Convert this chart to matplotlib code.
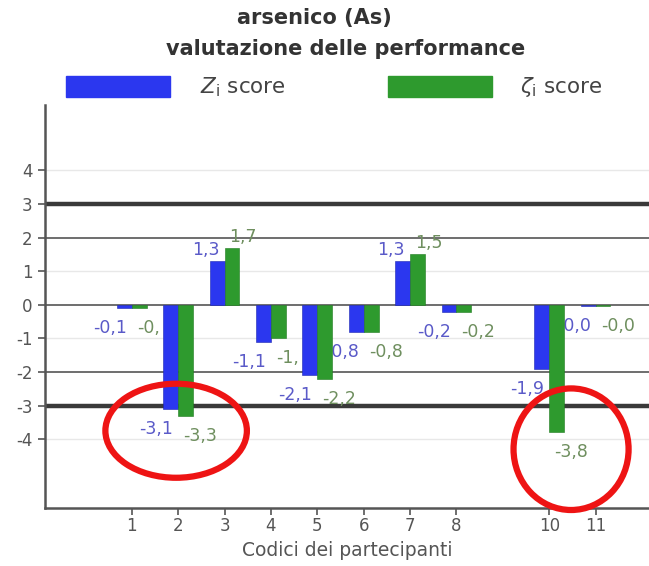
import matplotlib
matplotlib.use("Agg")
import matplotlib.pyplot as plt
from matplotlib.patches import Rectangle, Ellipse

# Participant codes (9 did not report) and their performance scores
codes = [1, 2, 3, 4, 5, 6, 7, 8, 10, 11]
z_score = [-0.1, -3.1, 1.3, -1.1, -2.1, -0.8, 1.3, -0.2, -1.9, -0.04]
zeta_score = [-0.1, -3.3, 1.7, -1.0, -2.2, -0.8, 1.5, -0.2, -3.8, -0.04]
# value labels that the chart cuts short (zeta series)
zeta_cut = {1: "-0,", 4: "-1,"}

y_ticks = [-4, -3, -2, -1, 0, 1, 2, 3, 4]

BLUE = "#2b37ef"
GREEN = "#2e9a2e"
BLUE_TXT = "#5a5ac8"
GREEN_TXT = "#6f8f5f"
AXIS = "#555555"

fig = plt.figure(figsize=(6.49, 5.66), dpi=100)
ax = fig.add_axes([0.0686, 0.1025, 0.9314, 0.712])

ax.set_xlim(-0.88, 12.15)
ax.set_ylim(-6.05, 5.95)

# reference lines
for y in y_ticks:
    if abs(y) == 3:
        ax.axhline(y, color="#3a3a3a", lw=3.2, zorder=1)
    elif y in (0, 2, -2):
        ax.axhline(y, color="#6e6e6e", lw=1.4, zorder=1)
    else:
        ax.axhline(y, color="#e8e8e8", lw=1.0, zorder=1)

w = 0.32
ax.bar([c - w / 2 for c in codes], z_score, width=w, color=BLUE,
       edgecolor="#1c26b0", lw=0.4, zorder=3)
ax.bar([c + w / 2 for c in codes], zeta_score, width=w, color=GREEN,
       edgecolor="#1f7a1f", lw=0.4, zorder=3)


def fmt(v):
    return f"{v:.1f}".replace(".", ",")


for c, zv, tv in zip(codes, z_score, zeta_score):
    dy = 11 if zv > 0 else -20
    ax.annotate(fmt(zv), (c, zv), xytext=(-5, dy), textcoords="offset pixels",
                ha="right", va="center", color=BLUE_TXT, fontsize=12.5,
                zorder=2)
    dy = 11 if tv > 0 else -20
    lab = zeta_cut.get(c, fmt(tv))
    ax.annotate(lab, (c, tv), xytext=(5, dy), textcoords="offset pixels",
                ha="left", va="center", color=GREEN_TXT, fontsize=12.5,
                zorder=2)

ax.set_xticks(codes)
ax.set_xticklabels([str(c) for c in codes])
ax.set_yticks(y_ticks)
ax.set_yticklabels([str(t) for t in y_ticks])
ax.tick_params(colors=AXIS, labelcolor=AXIS, labelsize=12, length=5,
               width=1.2, direction="out")
ax.tick_params(axis="x", pad=1.5)

for s in ("top", "right"):
    ax.spines[s].set_visible(False)
for s in ("left", "bottom"):
    ax.spines[s].set_color(AXIS)
    ax.spines[s].set_linewidth(1.8)

ax.set_xlabel("Codici dei partecipanti", fontsize=13.5, color=AXIS,
              labelpad=4)

# highlighted results
for cx, cy, ew, eh in [(1.957, -3.75, 3.05, 2.8), (10.47, -4.3, 2.48, 3.62)]:
    ax.add_patch(Ellipse((cx, cy), ew, eh, fill=False, edgecolor="#ee1414",
                         lw=4.5, zorder=6, clip_on=False))

# title
fig.text(0.484, 0.968, "arsenico (As)", ha="center", va="center",
         fontsize=15, fontweight="bold", color="#333333")
fig.text(0.533, 0.913, "valutazione delle performance", ha="center",
         va="center", fontsize=15, fontweight="bold", color="#333333")

# legend
fig.patches.append(Rectangle((66 / 649, 1 - 97 / 566), 104 / 649, 21 / 566,
                             transform=fig.transFigure, color=BLUE))
fig.text(200 / 649, 1 - 87 / 566, r"$Z_{\mathregular{i}}$ score",
         va="center", fontsize=15.5, color="#444444")
fig.patches.append(Rectangle((388 / 649, 1 - 97 / 566), 104 / 649, 21 / 566,
                             transform=fig.transFigure, color=GREEN))
fig.text(520 / 649, 1 - 87 / 566, r"$\zeta_{\mathregular{i}}$ score",
         va="center", fontsize=15.5, color="#444444")

fig.savefig("out.png", dpi=100)
